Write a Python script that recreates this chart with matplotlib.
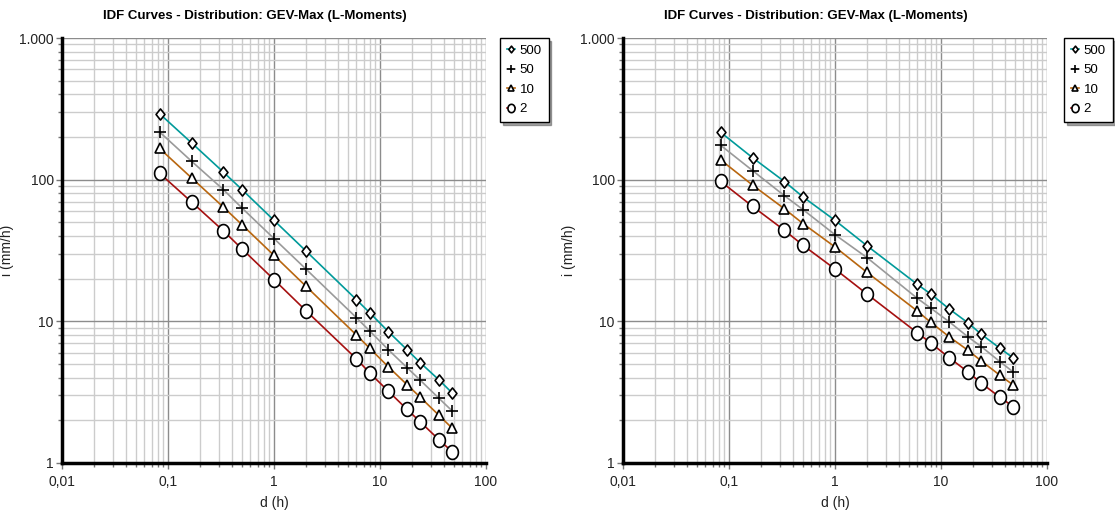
import matplotlib
matplotlib.use("Agg")
import matplotlib.pyplot as plt
import numpy as np
from matplotlib.path import Path
from matplotlib.ticker import FixedLocator, FixedFormatter, LogLocator, NullFormatter

plt.rcParams['font.family'] = ['Liberation Sans', 'DejaVu Sans']

durations = [1/12, 1/6, 1/3, 0.5, 1, 2, 6, 8, 12, 18, 24, 36, 48]
return_periods = ["500", "50", "10", "2"]

left_500 = [292, 182, 113, 85, 51.6, 31.4, 14.2, 11.5, 8.45, 6.3, 5.1, 3.86, 3.12]
left_50 = [217, 135, 85, 63, 38.4, 23.4, 10.6, 8.55, 6.3, 4.71, 3.84, 2.86, 2.33]
left_10 = [166, 103, 64, 48, 29.2, 17.7, 8.0, 6.45, 4.77, 3.57, 2.91, 2.17, 1.76]
left_2 = [111, 69.6, 43.5, 32.4, 19.7, 11.9, 5.43, 4.32, 3.21, 2.39, 1.95, 1.46, 1.20]

right_500 = [216, 143, 97, 75.5, 51.6, 34.2, 18.2, 15.6, 12.2, 9.75, 8.1, 6.45, 5.52]
right_50 = [175, 116, 77, 61.4, 40.9, 28.2, 14.5, 12.4, 9.9, 7.76, 6.63, 5.19, 4.39]
right_10 = [138, 91.6, 62.3, 48.9, 33.5, 22.2, 11.8, 9.84, 7.76, 6.24, 5.25, 4.16, 3.55]
right_2 = [97.3, 64.8, 43.9, 34.4, 23.4, 15.6, 8.28, 7.04, 5.52, 4.39, 3.66, 2.91, 2.50]

title = "IDF Curves - Distribution: GEV-Max (L-Moments)"
x_ticks = [0.01, 0.1, 1, 10, 100]
x_labels = ["0,01", "0,1", "1", "10", "100"]
y_ticks = [1, 10, 100, 1000]
y_labels = ["1", "10", "100", "1.000"]

colors = ["#009a9a", "#9a9a9a", "#b8660f", "#a51010"]

diamond = Path([(0, 1), (0.8, 0), (0, -1), (-0.8, 0), (0, 1)],
               [Path.MOVETO, Path.LINETO, Path.LINETO, Path.LINETO, Path.CLOSEPOLY])
t = np.linspace(0, 2 * np.pi, 41)
ellipse = Path(np.column_stack([0.85 * np.cos(t), np.sin(t)]), closed=True)
markers = [diamond, "+", "^", ellipse]
msizes = [8, 9, 7.5, 10]

fig = plt.figure(figsize=(11.15, 5.15), dpi=100)
W, H = 1115, 515

def make_panel(x0, series, legend_x, ylabel_x):
    ax = fig.add_axes([x0 / W, 1 - 463 / H, 424 / W, (463 - 38) / H])
    ax.set_xscale("log")
    ax.set_yscale("log")
    ax.set_xlim(0.01, 100)
    ax.set_ylim(1, 1000)
    handles = []
    for vals, c, m, ms, lab in zip(series, colors, markers, msizes, return_periods):
        h, = ax.plot(durations, vals, color=c, lw=1.2, marker=m, ms=ms,
                     mfc="white", mec="black", mew=1.2, label=lab, zorder=3)
        handles.append(h)
    ax.grid(which="minor", color="#cccccc", lw=1.0, zorder=0)
    ax.grid(which="major", color="#8c8c8c", lw=1.0, zorder=0)
    ax.set_axisbelow(True)
    for s in ["top", "right"]:
        ax.spines[s].set_visible(False)
    for s in ["left", "bottom"]:
        ax.spines[s].set_linewidth(2.5)
        ax.spines[s].set_color("black")
    ax.xaxis.set_major_locator(FixedLocator(x_ticks))
    ax.xaxis.set_major_formatter(FixedFormatter(x_labels))
    ax.yaxis.set_major_locator(FixedLocator(y_ticks))
    ax.yaxis.set_major_formatter(FixedFormatter(y_labels))
    ax.xaxis.set_minor_locator(LogLocator(base=10, subs=range(2, 10)))
    ax.yaxis.set_minor_locator(LogLocator(base=10, subs=range(2, 10)))
    ax.xaxis.set_minor_formatter(NullFormatter())
    ax.yaxis.set_minor_formatter(NullFormatter())
    ax.tick_params(which="both", direction="out", color="#777777", width=1, labelsize=10, labelcolor="#222222")
    ax.tick_params(which="major", length=4, pad=2)
    ax.tick_params(which="minor", length=3)
    ax.tick_params(axis="x", which="major", pad=5)
    ax.set_xlabel("d (h)", fontsize=10, labelpad=5, color="#222222")
    ax.set_ylabel("i (mm/h)", fontsize=10, color="#222222")
    ax.yaxis.set_label_coords((ylabel_x - x0) / 424, 0.5)
    ax.set_title(title, fontsize=9.5, fontweight="bold", pad=14, x=0.455,
                 family=["Liberation Sans Narrow", "Liberation Sans"])
    leg = ax.legend(handles=handles, loc="upper left",
                    bbox_to_anchor=(legend_x / W, 1 - 38 / H), bbox_transform=fig.transFigure,
                    fontsize=9.5, frameon=True, fancybox=False, shadow=True,
                    handlelength=0.6, handletextpad=0.4, borderpad=0.5, labelspacing=0.55,
                    borderaxespad=0, markerscale=0.6)
    leg.get_frame().set_edgecolor("black")
    leg.get_frame().set_linewidth(1.0)
    return ax

make_panel(62, [left_500, left_50, left_10, left_2], 500, 14)
make_panel(623, [right_500, right_50, right_10, right_2], 1064, 576)

fig.savefig("out.png", dpi=100)
